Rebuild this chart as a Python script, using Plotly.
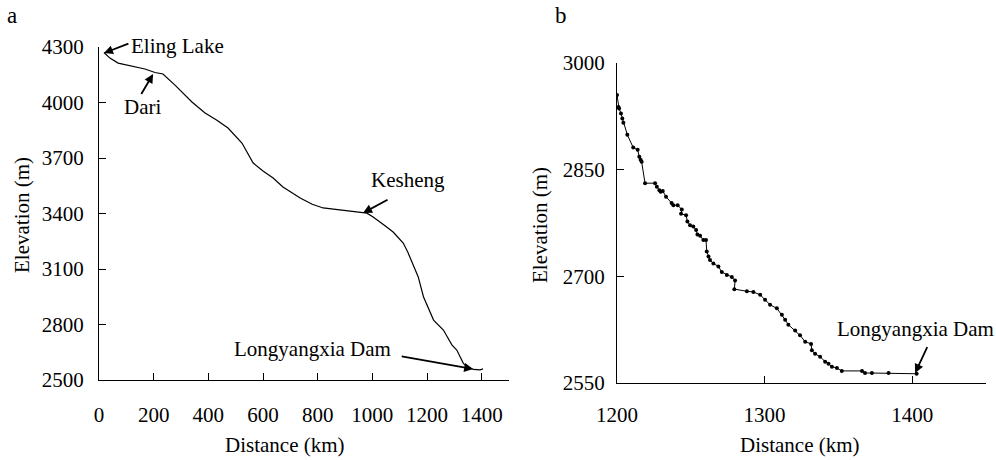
import plotly.graph_objects as go

# Panel a: full profile
dist_a = [18, 40, 70, 120, 168, 205, 234, 278, 340, 388, 430, 472, 523, 564, 600, 637, 673,
          736, 780, 820, 882, 955, 980, 1003, 1029, 1050, 1076, 1095, 1113, 1130, 1150, 1168,
          1187, 1211, 1224, 1260, 1291, 1309, 1333, 1346, 1370, 1394, 1405]
elev_a = [4270, 4240, 4213, 4195, 4181, 4162, 4154, 4094, 4003, 3943, 3905, 3862, 3781, 3673,
          3630, 3592, 3543, 3484, 3450, 3430, 3419, 3408, 3402, 3381, 3354, 3330, 3300, 3270,
          3240, 3190, 3120, 3057, 2950, 2862, 2824, 2770, 2690, 2662, 2590, 2572, 2557, 2555, 2560]

# Panel b: lower reach, 1200-1405 km
dist_b = [1200, 1201, 1201.4, 1202.7, 1203.6, 1204.3, 1207, 1211, 1214, 1215.1, 1216, 1216.7,
          1219, 1225.8, 1227, 1228.7, 1229.6, 1231, 1233.2, 1237, 1238.2, 1241.1, 1243.9, 1243.4,
          1246.8, 1247.7, 1249.5, 1251.7, 1253.6, 1254.5, 1256.3, 1258.5, 1260.3, 1260.8, 1262,
          1263, 1265.3, 1268.7, 1271, 1274.4, 1277.8, 1280, 1279.5, 1288, 1292.4, 1297, 1300.3,
          1303.7, 1308.3, 1311.7, 1313.9, 1316.1, 1320.7, 1324, 1327.5, 1331.5, 1332, 1334.2,
          1337.6, 1341, 1343.3, 1345.6, 1349, 1352.3, 1366, 1368, 1372.7, 1384, 1403]
elev_b = [2955, 2938, 2936, 2929, 2922, 2916, 2899, 2881, 2878, 2868, 2864, 2861,
          2831, 2831, 2826, 2821, 2819, 2820, 2812, 2803, 2800, 2800, 2794, 2788,
          2786, 2777, 2772, 2770, 2765, 2759, 2757, 2751, 2751, 2735, 2728,
          2723, 2718, 2714, 2706, 2702, 2699, 2694, 2682, 2679, 2678, 2674, 2667,
          2660, 2655, 2646, 2639, 2632, 2624, 2617, 2608, 2605, 2596, 2591,
          2587, 2580, 2577, 2573, 2571, 2567, 2567, 2564, 2564, 2564, 2563]

ticks_a_x = [0, 200, 400, 600, 800, 1000, 1200, 1400]
ticks_a_y = [2500, 2800, 3100, 3400, 3700, 4000, 4300]
ticks_b_x = [1200, 1300, 1400]
ticks_b_y = [2550, 2700, 2850, 3000]

W, H = 996, 460
FONT = "Liberation Serif"
FS = 21


def px(x):
    return x / W


def py(y):
    return 1 - y / H


fig = go.Figure()
fig.add_trace(go.Scatter(x=dist_a, y=elev_a, mode="lines", xaxis="x", yaxis="y",
                         line=dict(color="black", width=1.2), showlegend=False))
fig.add_trace(go.Scatter(x=dist_b, y=elev_b, mode="lines+markers", xaxis="x2", yaxis="y2",
                         line=dict(color="black", width=1), marker=dict(color="black", size=4),
                         showlegend=False))

axis_common = dict(showline=True, linecolor="black", linewidth=1, showgrid=False, zeroline=False,
                   ticks="inside", ticklen=7, tickcolor="black", tickwidth=1, automargin=False,
                   tickfont=dict(family=FONT, size=FS, color="black"))

fig.update_layout(
    width=W, height=H, margin=dict(l=0, r=0, t=0, b=0),
    paper_bgcolor="white", plot_bgcolor="white",
    font=dict(family=FONT, size=FS, color="black"),
    xaxis=dict(domain=[px(99), px(509)], range=[0, 1500], tickvals=ticks_a_x,
               anchor="y", ticklabelstandoff=16, **axis_common),
    yaxis=dict(domain=[py(380), py(47)], range=[2500, 4300], tickvals=ticks_a_y,
               anchor="x", ticklabelstandoff=10, **axis_common),
    xaxis2=dict(domain=[px(617), px(986)], range=[1200, 1450], tickvals=ticks_b_x,
                anchor="y2", ticklabelstandoff=13, **axis_common),
    yaxis2=dict(domain=[py(383), py(63)], range=[2550, 3000], tickvals=ticks_b_y,
                anchor="x2", ticklabelstandoff=7, **axis_common),
)

# Axis titles and panel letters
texts = [
    ("Elevation (m)", 22, 215, -90),
    ("Distance (km)", 285, 445, 0),
    ("Elevation (m)", 540, 225, -90),
    ("Distance (km)", 800, 445, 0),
    ("a", 12, 15, 0),
    ("b", 561, 15, 0),
    ("Eling Lake", 177, 46, 0),
    ("Dari", 142, 107, 0),
    ("Kesheng", 408, 180, 0),
    ("Longyangxia Dam", 312, 349, 0),
    ("Longyangxia Dam", 915, 329, 0),
]
for t, x, y, ang in texts:
    fig.add_annotation(text=t, x=px(x), y=py(y), xref="paper", yref="paper",
                       showarrow=False, textangle=ang, xanchor="center", yanchor="middle",
                       font=dict(family=FONT, size=FS if t not in ("a", "b") else 23, color="black"))

# Arrows: (xref, yref, head x, head y, tail offset ax, ay)
arrows = [
    ("x", "y", 18, 4267, 26, -10),
    ("x", "y", 198, 4154, -13, 22),
    ("x", "y", 966, 3403, 26, -14),
    ("x", "y", 1369, 2559, -73, -13),
    ("x2", "y2", 1402, 2564, 13, -28),
]
for xr, yr, hx, hy, ax, ay in arrows:
    fig.add_annotation(text=" ", x=hx, y=hy, xref=xr, yref=yr, ax=ax, ay=ay,
                       axref="pixel", ayref="pixel", showarrow=True, arrowhead=2,
                       arrowsize=1, arrowwidth=1.8, arrowcolor="black", standoff=0,
                       font=dict(size=1))

fig.write_html("out.html", config={"displayModeBar": False},
               post_script="document.body.style.margin='0';document.body.style.overflow='hidden';")
